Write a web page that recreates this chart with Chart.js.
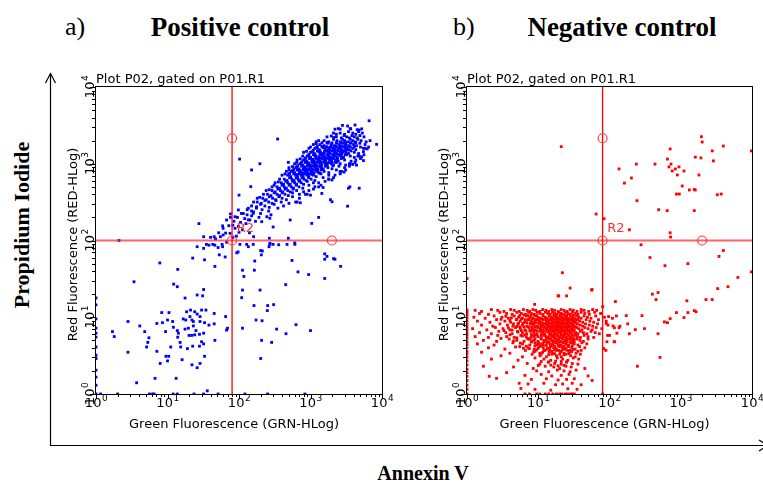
<!DOCTYPE html>
<html>
<head>
<meta charset="utf-8">
<title>Annexin V / PI</title>
<script src="https://cdn.jsdelivr.net/npm/chart.js@4.4.1/dist/chart.umd.min.js"></script>
<style>
body { margin: 0; background: #fff; }
#page { position: relative; width: 763px; height: 482px; overflow: hidden; background: #fff; }
#page svg, #page canvas { position: absolute; }
</style>
</head>
<body>
<div id="page">
  <svg width="763" height="482" style="left:0;top:0">
    <g font-family="'Liberation Serif', 'Times New Roman', serif" fill="#000">
      <text x="65" y="35" font-size="26">a)</text>
      <text x="240" y="36" font-size="27" font-weight="bold" text-anchor="middle">Positive control</text>
      <text x="453" y="35" font-size="26">b)</text>
      <text x="622" y="36" font-size="27" font-weight="bold" text-anchor="middle">Negative control</text>
      <text transform="translate(29,225) rotate(-90)" font-size="22" font-weight="bold" text-anchor="middle">Propidium Iodide</text>
      <text x="423" y="480" font-size="20" font-weight="bold" text-anchor="middle">Annexin V</text>
    </g>
    <g stroke="#000" stroke-width="1.2" fill="none">
      <polyline points="50.5,74 50.5,445.5 770,445.5"/>
      <polyline points="45.5,83 50.5,73.5 55.5,83"/>
      <polyline points="759,440 768,445.5 759,451"/>
    </g>
  </svg>
  <canvas id="pos" width="364" height="390" style="left:36px;top:60px"></canvas>
  <canvas id="neg" width="361" height="390" style="left:402px;top:60px"></canvas>
</div>
<script>
// AXES
const decades = [1, 10, 100, 1000, 10000];
const decadeExps = ['0', '1', '2', '3', '4'];
const minorTicks = [2, 3, 4, 5, 6, 7, 8, 9, 20, 30, 40, 50, 60, 70, 80, 90,
    200, 300, 400, 500, 600, 700, 800, 900, 2000, 3000, 4000, 5000, 6000, 7000, 8000, 9000];
const plotTitle = 'Plot P02, gated on P01.R1';
const xTitle = 'Green Fluorescence (GRN-HLog)';
const yTitle = 'Red Fluorescence (RED-HLog)';

// GATE R2
const gateName = 'R2';
const gateGreen = 80;
const gateRed = 100;
const gateHandles = [[80, 2150], [80, 100], [1990, 100]];
const gateLabelAt = [93, 129];

// EVENTS [green, red]  (positive control)
const posEvents = [
    [1,17.8],[1,14.5],[1,9.5],[1,7.2],[1,6.2],[1,5.5],[1,4.1],[1,3.2],[1,2.9],[1,2.05],[1,1.66],[1,1.3],[1,1],
    [1.16,1],[2,1],[5.6,1],[6.2,1],[6.5,1],[12,1],[13.7,1],[23.5,1],[32,1],[51,1],[121,1],[251,1],[835,1],
    [7.8,51],[13.9,42],[3.4,29],[12.2,27],[13.7,25],[32,23],[26,19.5],[31,19],[17.6,17.8],[46,46],[33,56],[22.5,59],
    [21,12.4],[18.5,11.8],[24,11.8],[30,12.4],[34.5,12.4],[26,11],[45,11.2],[8.3,11.5],[10.5,11.5],[20.6,10.2],
    [18,9.2],[16.6,9.5],[22,9.2],[28.5,10.2],[28.5,8.8],[33,8.5],[23,8.8],
    [2.8,8.8],[4.1,7.7],[4.8,6.5],[7.1,8.3],[8.5,8.5],[10,9.2],[11.8,8.8],[9.4,6.5],[12.1,7.4],[13.7,6.7],[14.2,6.2],
    [17.6,7],[19.6,7.2],[23,7.7],[25,6.7],[20,5.8],[21.8,5.8],[24,5.9],[28,6],[32,6.2],[38,7.9],[45,8.2],
    [1.7,6.5],[1.8,5.6],[5.5,5.4],[5.3,4.7],[5.1,4.1],[7.1,3.6],[2.8,3.5],[13.9,5.5],[15,4.7],[11.1,4.1],[15.3,4.1],
    [19,3.9],[22.5,4.2],[28,4.2],[32,4.5],[30,4.8],[46,5],
    [9.5,3.1],[10.4,3.1],[7.9,2.5],[10,2.7],[16,2.8],[33,3.1],[22,2.4],[28.5,2.5],[26,2.2],[6.7,1.6],[13.2,1.6],[3.7,1.4],[36,1.1],
    [65,10.2],[69,7.2],[67,6.8],[112,7.2],[112,22.6],[109,18],[162,14.2],[173,9.2],[210,9],[252,14.2],[249,12.2],
    [305,14.6],[336,7],[454,6.1],[627,8],[1000,6.7],[207,5],[286,4.7],[201,2.9],[197,22.6],[450,26.6],[112,41],
    [117,34],[164,41],[166,54],[205,65],[212,73],[551,55],[668,39],[942,36],[1580,67],[1580,57],[2200,57],[2640,46],[1580,32],
    [26,83],[32,79],[38,87],[46,87],[51,81],[59,83],[67,95],[53,65],[64,61],[93,69],[97,71],[135,83],[201,74],
    [263,83],[271,92],[359,88],[601,93],
    [35,89],[43,89],[58,89],[103,89],[128,89],[158,89],[270,89],[300,89],[470,89],[605,89],[1700,62],[2100,58],
    [2.1,100],[32,112],[40,110],[47,105],[55,112],[60,118],[65,125],[27.5,166],[59,155],[76,222],[76,200],[72,156],
    [102,1150],[150,830],[196,1000],[347,2100],[100,390],[146,503],[490,1043],
    [6600,3630],[3650,2840],[4800,2750],[8400,1790],[5500,1440],[5500,1100],[4400,960],[3400,480],[1900,340],
    [3300,280],[1300,200],[1040,167],[520,185],[300,150],[266,107],[490,107],[1440,410],[2000,320],[3550,500],[4800,480],
    [60,144],[67,185],[88,204],[98,250],[115,225],[135,263],[158,225],[177,275],[142,185],[208,176],[245,204],[270,195],
    [2600,2510],[3000,2420],[3400,2620],[3900,2510],[4300,2420],[4700,2620],[5300,2510],
    [2300,2240],[2700,2170],[2950,2330],[3200,2240],[3500,2170],[3800,2330],[4100,2240],[4500,2170],[4900,2330],[5600,2240],
    [1550,2000],[1800,1930],[2100,2080],[2350,2000],[2600,1930],[2800,2080],[3000,2000],[3300,1930],[3600,2080],
    [3900,2000],[4200,1930],[4600,2080],[5100,2000],[6000,1930],
    [1450,1880],[1700,1890],[2000,1870],[2300,1880],[2700,1890],[3100,1870],[3600,1880],[4300,1890],
    [1350,1780],[1550,1720],[1750,1850],[1950,1780],[2150,1720],[2300,1850],[2500,1780],[2700,1720],[2900,1850],
    [3100,1780],[3400,1720],[3700,1850],[4000,1780],[4400,1720],[4900,1850],[5800,1780],
    [1250,1680],[1450,1690],[1680,1670],[1950,1680],[2250,1690],[2600,1670],[3000,1680],[3500,1690],[4100,1670],
    [1220,1620],[1520,1620],[1830,1620],[2150,1620],[2600,1620],[3200,1620],
    [1150,1590],[1300,1530],[1450,1650],[1600,1590],[1750,1530],[1900,1650],[2050,1590],[2200,1530],[2350,1650],
    [2500,1590],[2700,1530],[2900,1650],[3100,1590],[3300,1530],[3600,1650],[3900,1590],[4300,1530],[5000,1650],
    [1100,1500],[1350,1490],[1600,1510],[1850,1500],[2100,1490],[2400,1510],[2750,1500],[3100,1490],[3500,1510],
    [1060,1440],[1310,1440],[1560,1440],[1820,1440],[2220,1440],[2850,1440],
    [1000,1410],[1120,1360],[1250,1470],[1380,1410],[1500,1360],[1620,1470],[1750,1410],[1880,1360],[2000,1470],
    [2150,1410],[2300,1360],[2450,1470],[2600,1410],[2750,1360],[2950,1470],[3150,1410],[3400,1360],[3700,1470],
    [4100,1410],[4700,1360],
    [950,1330],[1150,1340],[1350,1320],[1550,1330],[1800,1340],[2050,1320],[2350,1330],[2700,1340],[3050,1320],
    [950,1285],[1150,1285],[1450,1285],[1750,1285],[2150,1285],[2600,1285],
    [900,1260],[1000,1210],[1100,1310],[1200,1260],[1300,1210],[1400,1310],[1500,1260],[1600,1210],[1700,1310],
    [1820,1260],[1950,1210],[2080,1310],[2200,1260],[2350,1210],[2500,1310],[2700,1260],[2900,1210],[3200,1310],
    [3600,1260],[4100,1210],
    [850,1190],[1000,1180],[1180,1200],[1380,1190],[1580,1180],[1800,1200],[2050,1190],[2400,1180],[2800,1200],
    [840,1145],[1080,1145],[1320,1145],[1600,1145],[1920,1145],[2350,1145],
    [800,1120],[880,1080],[960,1170],[1040,1120],[1120,1080],[1200,1170],[1280,1120],[1360,1080],[1450,1170],
    [1540,1120],[1640,1080],[1740,1170],[1850,1120],[1970,1080],[2100,1170],[2250,1120],[2450,1080],[2700,1170],
    [3000,1120],[3700,1080],
    [760,1060],[900,1050],[1050,1070],[1220,1060],[1400,1050],[1600,1070],[1850,1060],[2200,1050],
    [740,1020],[950,1020],[1160,1020],[1380,1020],[1700,1020],[2000,1020],
    [710,1000],[780,960],[850,1040],[920,1000],[990,960],[1060,1040],[1130,1000],[1200,960],[1280,1040],[1360,1000],
    [1440,960],[1530,1040],[1620,1000],[1720,960],[1830,1040],[1950,1000],[2100,960],[2300,1040],[2600,1000],[3100,960],
    [660,945],[780,940],[910,950],[1060,945],[1220,940],[1400,950],[1650,945],[2050,940],
    [640,910],[840,910],[1000,910],[1160,910],[1380,910],
    [620,890],[690,860],[750,930],[810,890],[870,860],[930,930],[990,890],[1050,860],[1120,930],[1190,890],
    [1260,860],[1340,930],[1420,890],[1510,860],[1620,930],[1750,890],[2000,860],[2500,930],
    [580,840],[680,835],[790,845],[920,840],[1060,835],[1240,845],[1450,840],
    [560,815],[720,815],[880,815],[1050,815],[1250,815],
    [540,795],[600,765],[650,830],[700,795],[750,765],[800,830],[850,795],[900,765],[960,830],[1020,795],
    [1080,765],[1150,830],[1220,795],[1300,765],[1400,830],[1550,795],[1800,765],[2300,830],
    [510,750],[600,745],[700,755],[820,750],[960,745],[1120,755],[1350,750],
    [500,725],[640,725],[770,725],[920,725],[1060,725],
    [480,710],[530,680],[580,740],[620,710],[660,680],[700,740],[740,710],[790,680],[840,740],[890,710],
    [950,680],[1020,740],[1100,710],[1200,680],[1400,740],[1800,710],
    [430,630],[470,605],[510,660],[550,630],[590,605],[630,660],[670,630],[710,605],[760,660],[810,630],
    [870,605],[940,660],[1020,630],[1150,605],[1500,660],
    [390,565],[420,540],[450,590],[480,565],[520,540],[560,590],[600,565],[640,540],[690,590],[740,565],
    [800,540],[900,590],[1100,565],
    [340,500],[370,480],[400,525],[430,500],[460,480],[500,525],[540,500],[580,480],[630,525],[690,500],[780,480],[950,525],
    [290,448],[320,430],[350,468],[380,448],[410,430],[440,468],[480,448],[520,430],[570,468],[640,448],[800,430],
    [250,400],[280,385],[310,418],[340,400],[370,385],[400,418],[440,400],[490,385],[560,418],[700,400],
    [215,355],[240,340],[265,372],[295,355],[325,340],[360,372],[400,355],[460,340],[560,372],
    [180,317],[205,305],[230,332],[260,317],[290,305],[330,332],[390,317],[500,305],
    [150,282],[175,270],[200,296],[230,282],[265,270],[310,296],[420,282],
    [130,252],[150,242],[175,264],[210,252],[260,242],[350,264],
    [108,225],[130,216],[160,236],[200,225],[280,216],
    [95,200],[120,193],[150,210],[190,200],
    [85,178],[105,172],[135,186],[170,178],
    [82,158],[98,153],[125,166],
    [88,144],[112,138],
    [52,126],[75,124],[100,128],[140,126],
    [45,112],[82,110],[92,114],[160,112],
    [1300,2000],[1200,1930],[950,1590],[1000,1650],[780,1260],[600,1000],[640,1040],[460,795],[500,830],[370,630],
    [290,500],[310,525],[220,400],[160,317],[2100,2510],[2300,2420],[2800,3160],[3300,3100],[4200,3200],
    [2600,2820],[3600,2880],[4500,2780],[5200,2850],
    [6800,2000],[5800,1590],[6500,1650],[4800,1260],[5600,1310],[4300,1120],[5000,1170],[3600,1000],[4200,1040],
    [3000,890],[3500,930],[2700,795],[3100,830],[2200,710],[2600,740],[1800,630],[2100,660],[1300,565],[1600,590],
    [1150,500],[1400,525],[950,448],[1100,468],[850,400],[700,355],[620,317],
    [2200,2820],[2450,2870],[1700,2240],[1950,2300],[2100,2200],[1100,1780],[1200,1830],[800,1410],[880,1450],
    [650,1120],[720,1160],[500,890],[560,920],[400,710],[440,735],[320,565],[355,580],[240,448],[265,460],
    [180,355],[195,365],
    [5500,1590],[6200,1560],[4600,1260],[5200,1230],[3500,1000],[3900,980],[2600,795],[2950,780],[1800,630],
    [2000,615],[1300,500],[1500,490],[900,400],[1000,390],[650,317],[720,310]
];

// EVENTS [green, red]  (negative control)
const negEvents = [
    [1,1],[1,1.15],[1,1.3],[1,1.5],[1,1.7],[1,1.9],[1,2.1],[1,2.4],[1,2.7],[1,3.0],[1,3.3],[1,3.6],[1,4.0],[1,4.4],
    [1,4.8],[1,5.3],[1,5.8],[1,6.3],[1,6.9],[1,7.5],[1,8.2],[1,9.0],[1,9.8],[1,10.7],[1,11.6],[1,12.5],[1,32],
    [1.3,12.3],[1.6,11.9],[2.2,12.6],[2.7,12.3],[3.3,11.9],[4.1,12.6],[4.6,12.3],[5.4,11.9],[6.2,12.6],[7,12.3],
    [7.6,11.9],[8.4,12.6],[9.2,12.3],[10.5,11.9],[11.5,12.6],[12.8,12.3],[14,11.9],[15.5,12.6],[17,12.3],[19,11.9],
    [21,12.6],[23,12.3],[25.5,11.9],[28,12.6],[31,12.3],[35,11.9],[40,12.6],[44,12.3],[51,11.9],[58,12.6],[66,12.3],
    [1.5,11.2],[2,10.9],[2.9,11.6],[3.6,11.2],[4.3,10.9],[5,11.6],[5.8,11.2],[6.6,10.9],[7.3,11.6],[8,11.2],
    [8.8,10.9],[9.7,11.6],[10.6,11.2],[11.6,10.9],[12.6,11.6],[13.6,11.2],[14.7,10.9],[15.8,11.6],[17,11.2],
    [18.2,10.9],[19.5,11.6],[21,11.2],[22.5,10.9],[24,11.6],[26,11.2],[28,10.9],[30,11.6],[33,11.2],[36,10.9],
    [40,11.6],[45,11.2],[52,10.9],[62,11.6],[75,11.2],
    [5.5,10.6],[6.3,10.7],[7.1,10.5],[7.9,10.6],[8.7,10.7],[9.5,10.5],[16.5,10.6],[20.5,10.7],[25,10.5],[31,10.6],
    [3.5,10.3],[4.2,9.8],[3,9.4],[4,9.1],[4.5,8.2],[3.8,7.3],[5,7.6],[3.3,6.7],[4.3,6.8],[5.2,6.4],
    [1.25,10],[1.8,9.7],[2.4,10.4],[3.1,10],[3.8,9.7],[4.6,10.4],[5.3,10],[6,9.7],[6.8,10.4],[7.6,10],[8.4,9.7],
    [9.2,10.4],[10,10],[10.8,9.7],[11.7,10.4],[12.5,10],[13.3,9.7],[14.2,10.4],[15.1,10],[16,9.7],[17,10.4],
    [18,10],[19,9.7],[20,10.4],[21.2,10],[22.4,9.7],[23.7,10.4],[25,10],[26.5,9.7],[28,10.4],[30,10],[32,9.7],
    [34.5,10.4],[37,10],[40,9.7],[44,10.4],[49,10],[55,9.7],[64,10.4],[85,10],[110,9.7],[125,10.4],
    [5,9.4],[5.8,9.5],[6.6,9.3],[7.4,9.4],[8.2,9.5],[9,9.3],[9.8,9.4],[10.6,9.5],
    [11.5,9.4],[12.8,9.5],[14,9.3],[15.3,9.4],[16.5,9.5],[17.8,9.3],[19,9.4],[20.3,9.5],[21.6,9.3],[23,9.4],
    [24.6,9.5],[26.3,9.3],[28,9.4],[30,9.5],[33,9.3],[36,9.4],
    [1.4,8.9],[2.1,8.6],[2.6,9.3],[3.4,8.9],[4.1,8.6],[4.9,9.3],[5.6,8.9],[6.4,8.6],[7.2,9.3],[8,8.9],[8.8,8.6],
    [9.6,9.3],[10.4,8.9],[11.2,8.6],[12.1,9.3],[13,8.9],[13.9,8.6],[14.8,9.3],[15.7,8.9],[16.6,8.6],[17.5,9.3],
    [18.5,8.9],[19.5,8.6],[20.6,9.3],[21.8,8.9],[23,8.6],[24.3,9.3],[25.7,8.9],[27.2,8.6],[28.8,9.3],[30.5,8.9],
    [32.5,8.6],[35,9.3],[38,8.9],[42,8.6],[47,9.3],[53,8.9],[60,8.6],[70,9.3],[90,8.9],
    [5.3,8.4],[6.1,8.3],[6.9,8.5],[7.7,8.4],[8.5,8.3],[9.4,8.5],
    [10.5,8.4],[11.8,8.3],[13.1,8.5],[14.3,8.4],[15.6,8.3],[16.9,8.5],[18.2,8.4],[19.6,8.3],[21,8.5],[22.6,8.4],
    [24.3,8.3],[26,8.5],[28,8.4],[30.5,8.3],[34,8.5],
    [1.6,7.9],[2.3,7.65],[2.9,8.2],[3.7,7.9],[4.4,7.65],[5.2,8.2],[6,7.9],[6.9,7.65],[7.8,8.2],[8.7,7.9],
    [9.5,7.65],[10.3,8.2],[11.1,7.9],[11.9,7.65],[12.7,8.2],[13.5,7.9],[14.3,7.65],[15.2,8.2],[16.1,7.9],
    [17,7.65],[17.9,8.2],[18.9,7.9],[19.9,7.65],[21,8.2],[22.1,7.9],[23.3,7.65],[24.6,8.2],[26,7.9],[27.5,7.65],
    [29,8.2],[31,7.9],[33,7.65],[35.5,8.2],[38.5,7.9],[42,7.65],[46,8.2],[52,7.9],[58,7.65],[68,8.2],[95,7.9],
    [140,7.65],[180,8.2],
    [5.5,7.5],[6.3,7.45],[7.2,7.55],[8.1,7.5],[9,7.45],[9.9,7.55],
    [11,7.5],[12.3,7.45],[13.6,7.55],[14.9,7.5],[16.2,7.45],[17.5,7.55],[18.9,7.5],[20.3,7.45],[21.8,7.55],
    [23.4,7.5],[25,7.45],[27,7.55],[29.2,7.5],[32,7.45],
    [1.2,7.1],[1.9,6.85],[2.5,7.35],[3.2,7.1],[4,6.85],[4.8,7.35],[5.6,7.1],[6.5,6.85],[7.4,7.35],[8.3,7.1],
    [9.1,6.85],[9.9,7.35],[10.7,7.1],[11.5,6.85],[12.3,7.35],[13.1,7.1],[13.9,6.85],[14.7,7.35],[15.5,7.1],
    [16.4,6.85],[17.3,7.35],[18.2,7.1],[19.2,6.85],[20.2,7.35],[21.3,7.1],[22.5,6.85],[23.8,7.35],[25.2,7.1],
    [26.7,6.85],[28.3,7.35],[30,7.1],[32,6.85],[34.5,7.35],[37,7.1],[41,6.85],[45,7.35],[50,7.1],[57,6.85],
    [65,7.35],[78,7.1],
    [5.8,6.7],[6.7,6.65],[7.6,6.75],[8.6,6.7],[9.6,6.65],
    [10.8,6.7],[12,6.65],[13.4,6.75],[14.7,6.7],[16,6.65],[17.3,6.75],[18.7,6.7],[20.1,6.65],[21.6,6.75],
    [23.2,6.7],[25,6.65],[27,6.75],[29,6.7],
    [1.5,6.3],[2.2,6.1],[2.8,6.55],[3.5,6.3],[4.3,6.1],[5.1,6.55],[6,6.3],[6.9,6.1],[7.8,6.55],[8.7,6.3],
    [9.6,6.1],[10.5,6.55],[11.4,6.3],[12.3,6.1],[13.2,6.55],[14.1,6.3],[15,6.1],[15.9,6.55],[16.8,6.3],
    [17.8,6.1],[18.8,6.55],[19.9,6.3],[21,6.1],[22.2,6.55],[23.5,6.3],[24.9,6.1],[26.4,6.55],[28,6.3],
    [29.7,6.1],[31.5,6.55],[33.5,6.3],[36,6.1],[39,6.55],[43,6.3],[48,6.1],[55,6.55],[63,6.3],[72,6.1],
    [6.5,5.9],[8,5.95],[9.5,5.9],[11,5.95],[12.4,5.9],[14.4,5.95],[16.4,5.9],[18.6,5.95],[21,5.9],[23.6,5.95],
    [26.5,5.9],[30,5.95],[34,5.9],
    [3,5.3],[4,5.9],[5,5.4],[6,5.7],[7.3,5.2],[8.5,5.65],
    [1.3,5.6],[2,5.45],[2.7,5.8],[3.6,5.6],[4.6,5.45],[5.7,5.8],[6.8,5.6],[7.9,5.45],[8.9,5.8],[9.9,5.6],
    [10.9,5.45],[11.9,5.8],[12.9,5.6],[13.9,5.45],[14.9,5.8],[15.9,5.6],[17,5.45],[18.1,5.8],[19.3,5.6],
    [20.5,5.45],[21.8,5.8],[23.2,5.6],[24.7,5.45],[26.3,5.8],[28,5.6],[30,5.45],[32.5,5.8],[35.5,5.6],
    [39,5.45],[44,5.8],[50,5.6],[60,5.45],
    [7,5.3],[9,5.25],[11,5.3],[13,5.3],[15,5.25],[17,5.3],[19.5,5.25],[22,5.3],[25,5.25],[28,5.3],[32,5.25],
    [1.7,5],[2.6,4.85],[3.9,5.2],[5,5],[6.3,4.85],[7.5,5.2],[8.7,5],[9.9,4.85],[11,5.2],[12.1,5],[13.2,4.85],
    [14.3,5.2],[15.4,5],[16.6,4.85],[17.9,5.2],[19.2,5],[20.6,4.85],[22.1,5.2],[23.7,5],[25.4,4.85],[27.3,5.2],
    [29.5,5],[32,4.85],[35,5.2],[38.5,5],[43,4.85],[50,5.2],
    [4.5,4.9],[5.6,4.6],[6.8,4.2],[8.1,4.9],[9.5,4.4],[11.5,4.55],[4.8,4.1],[6.2,3.95],
    [8,4.75],[10,4.7],[12,4.8],[14,4.75],[16,4.7],[18,4.8],[20,4.75],[22.5,4.7],[25,4.8],[28,4.75],[31,4.7],
    [1.4,4.5],[2.4,4.35],[4.4,4.65],[6,4.5],[7.6,4.35],[9,4.65],[10.4,4.5],[11.8,4.35],[13.2,4.65],[14.6,4.5],
    [16,4.35],[17.5,4.65],[19,4.5],[20.7,4.35],[22.5,4.65],[24.5,4.5],[26.7,4.35],[29,4.65],[32,4.5],[36,4.35],
    [41,4.65],[48,4.5],
    [9,4.25],[11,4.2],[13,4.3],[15,4.25],[17,4.2],[19,4.3],[21,4.25],[23,4.2],[26,4.3],[30,4.25],
    [2,4],[3.4,3.85],[5.5,4.15],[7.2,4],[8.8,3.85],[10.3,4.15],[11.8,4],[13.3,3.85],[14.8,4.15],[16.4,4],
    [18,3.85],[19.8,4.15],[21.8,4],[24,3.85],[26.5,4.15],[29.5,4],[33,3.85],[38,4.15],[45,4],
    [7.5,3.9],[9,3.6],[10,3.95],[11.5,3.5],[13.5,3.95],[15.5,3.6],[17.5,3.9],[21,3.6],[24,3.95],[27,3.45],
    [31,3.8],[36,3.6],
    [9.5,3.75],[12,3.7],[14.5,3.8],[17,3.75],[19.5,3.7],[22,3.8],[25,3.75],[28,3.7],
    [1.6,3.5],[4,3.4],[6.6,3.7],[8.6,3.55],[10.5,3.4],[12.4,3.7],[14.2,3.55],[16.1,3.4],[18.2,3.7],[20.5,3.55],
    [23,3.4],[26,3.7],[29.5,3.55],[34,3.4],[40,3.7],
    [11,3.3],[14,3.25],[17,3.35],[20,3.3],[23,3.25],[27,3.35],
    [3,3.15],[6,3.05],[8.2,3.3],[10.6,3.15],[13,3.05],[15.5,3.3],[18,3.15],[21,3.05],[24.5,3.3],[28.5,3.15],
    [33,3.05],[39,3.3],
    [2.2,2.85],[5.2,2.75],[9,2.95],[12,2.85],[15,2.75],[18.5,2.95],[22,2.85],[26,2.75],[31,2.95],[37,2.85],
    [11,2.65],[14,2.62],[17.5,2.68],[21,2.65],[25,2.62],
    [7,2.5],[10.5,2.45],[13.8,2.6],[17,2.5],[21,2.45],[25,2.6],[30,2.5],[36,2.45],
    [10,2.35],[15,2.38],[19,2.33],[23,2.36],
    [4.5,2.25],[8.5,2.15],[12.5,2.3],[16.5,2.25],[20,2.15],[24.5,2.3],[29,2.25],[45,2.15],
    [9.5,2],[14,1.95],[18.5,2.05],[23,2],[28,1.95],[34,2.05],
    [6.5,1.75],[11,1.8],[15.5,1.72],[21,1.75],[27,1.8],[50,1.72],
    [8,1.55],[13,1.58],[19,1.52],[25,1.55],[32,1.58],
    [7.2,1.35],[12,1.38],[17.5,1.32],[22,1.35],[30,1.38],[40,1.32],
    [9,1.15],[15,1.12],[26,1.17],[35,1.15],
    [6.5,1],[7.5,1],[9.5,1],[10.5,1],[12.5,1],[14,1],[16,1],[18,1],[20,1],[21.5,1],[24,1],[26,1],[28.5,1],[30,1],[32,1],
    [1.7,2.3],[2.05,1.7],[2.6,1.6],[3.6,1.9],[5.4,1.38],[5.7,1.18],
    [21.8,38],[19,19],[28,24],[56,22.6],[8.9,14.7],[25,19],[19.4,19],
    [90,8.3],[112,7.7],[127,6.2],[118,4.8],[92,4.8],[89,3.7],
    [97,10.2],[117,7.3],[136,7.3],[116,4.8],[94,5.8],[100,5.8],[83,3.9],[80,13.7],[57,1.5],[80,1],
    [1950,2250],[2000,1920],[710,1560],[3960,1700],[2770,1470],[9800,1470],[1600,1220],[1920,1190],[650,1150],
    [2870,1090],[238,990],[435,990],[730,990],[684,910],[945,910],[840,855],[136,855],[760,805],[1110,805],
    [896,714],[1800,714],[203,652],[162,560],[1050,513],[1320,455],[1550,462],[1600,455],[870,403],[955,403],
    [3260,395],[3700,403],[243,330],[490,252],[645,245],[1550,245],[65,221],[84,192],[190,138],[710,126],[720,111],
    [277,88],[3960,74],[3440,62],[370,60],[1260,50],[600,47],[9800,39],[6340,33],[3300,23.6],[4600,25],[57,23],
    [400,20],[480,21],[450,17],[1220,16.4],[2260,17],[2760,17],[121,16],[172,10.5],[286,10.5],[870,11.5],
    [1260,11.5],[1550,12.2],[1640,11.8],[1110,9.9],[590,8.7],[650,8.5],[710,9.6],[310,7.1],[230,6.9],[480,6.1],
    [190,6.1],[511,3],[246,2.3],[21,1670]
];

// DRAWING
const sans = '"DejaVu Sans", Verdana, sans-serif';

function drawPower(ctx, x, y, exp) {
    ctx.font = '13px ' + sans;
    let wb = ctx.measureText('10').width;
    ctx.font = '9px ' + sans;
    let we = ctx.measureText(exp).width;
    let left = x - (wb + we) / 2;
    ctx.textAlign = 'left';
    ctx.textBaseline = 'alphabetic';
    ctx.font = '13px ' + sans;
    ctx.fillText('10', left, y);
    ctx.font = '9px ' + sans;
    ctx.fillText(exp, left + wb + 0.5, y - 6);
}

const flowFrame = {
    id: 'flowFrame',
    afterDatasetsDraw(chart) {
        let ctx = chart.ctx;
        let a = chart.chartArea;
        let xs = chart.scales.x, ys = chart.scales.y;
        let L = Math.round(a.left), R = Math.round(a.right), T = Math.round(a.top), B = Math.round(a.bottom);
        ctx.save();
        ctx.strokeStyle = '#000';
        ctx.lineWidth = 1;
        ctx.strokeRect(L - 0.5, T - 0.5, R - L + 1, B - T + 1);

        ctx.beginPath();
        minorTicks.forEach(v => {
            let px = Math.round(xs.getPixelForValue(v)) + 0.5;
            ctx.moveTo(px, B); ctx.lineTo(px, B + 3);
            let py = Math.round(ys.getPixelForValue(v)) + 0.5;
            ctx.moveTo(L - 1, py); ctx.lineTo(L - 4, py);
        });
        decades.forEach(v => {
            let px = Math.round(xs.getPixelForValue(v)) + 0.5;
            ctx.moveTo(px, B); ctx.lineTo(px, B + 5);
            let py = Math.round(ys.getPixelForValue(v)) + 0.5;
            ctx.moveTo(L - 1, py); ctx.lineTo(L - 6, py);
        });
        ctx.stroke();

        ctx.fillStyle = '#000';
        decades.forEach((v, i) => {
            drawPower(ctx, xs.getPixelForValue(v), B + 13, decadeExps[i]);
            ctx.save();
            ctx.translate(L - 2, ys.getPixelForValue(v));
            ctx.rotate(-Math.PI / 2);
            drawPower(ctx, 0, 0, decadeExps[i]);
            ctx.restore();
        });

        ctx.font = '13px ' + sans;
        ctx.textAlign = 'center';
        ctx.fillText(xTitle, (L + R) / 2 - 5, B + 34);
        ctx.save();
        ctx.translate(L - 19, (T + B) / 2 + 4);
        ctx.rotate(-Math.PI / 2);
        ctx.fillText(yTitle, 0, 0);
        ctx.restore();
        ctx.textAlign = 'left';
        ctx.fillText(plotTitle, L, T - 4);

        ctx.fillStyle = '#ff3030';
        ctx.fillText(gateName, xs.getPixelForValue(gateLabelAt[0]), ys.getPixelForValue(gateLabelAt[1]));
        ctx.restore();
    }
};

function toXY(list) {
    return list.map(p => ({ x: p[0], y: p[1] }));
}

function buildChart(id, events, color, yWidth, rightPad) {
    return new Chart(document.getElementById(id), {
        type: 'scatter',
        data: {
            datasets: [
                { data: toXY(gateHandles), pointStyle: 'circle', pointRadius: 4.5, pointBorderWidth: 1.2,
                  pointBorderColor: '#ff3a3a', pointBackgroundColor: 'rgba(0,0,0,0)', order: 0 },
                { data: toXY([[gateGreen, 1], [gateGreen, 10000]]), showLine: true, borderColor: '#ff0000',
                  borderWidth: 1.3, pointRadius: 0, order: 1 },
                { data: toXY([[1, gateRed], [10000, gateRed]]), showLine: true, borderColor: 'rgba(255,50,50,0.75)',
                  borderWidth: 2, pointRadius: 0, order: 1 },
                { data: toXY(events), pointStyle: 'rect', pointRadius: 2, pointBorderWidth: 0,
                  pointBackgroundColor: color, order: 2 }
            ]
        },
        options: {
            responsive: false,
            animation: false,
            devicePixelRatio: 1,
            events: [],
            layout: { padding: { left: 0, right: rightPad, top: 27, bottom: 0 } },
            plugins: { legend: { display: false }, tooltip: { enabled: false } },
            scales: {
                x: { type: 'logarithmic', min: 1, max: 10000, grid: { display: false }, border: { display: false },
                     ticks: { display: false }, afterFit: s => { s.height = 56; } },
                y: { type: 'logarithmic', min: 1, max: 10000, grid: { display: false }, border: { display: false },
                     ticks: { display: false }, afterFit: s => { s.width = yWidth; } }
            }
        },
        plugins: [flowFrame]
    });
}

buildChart('pos', posEvents, '#0000ff', 60, 18);
buildChart('neg', negEvents, '#ff0000', 65, 11);
</script>
</body>
</html>
